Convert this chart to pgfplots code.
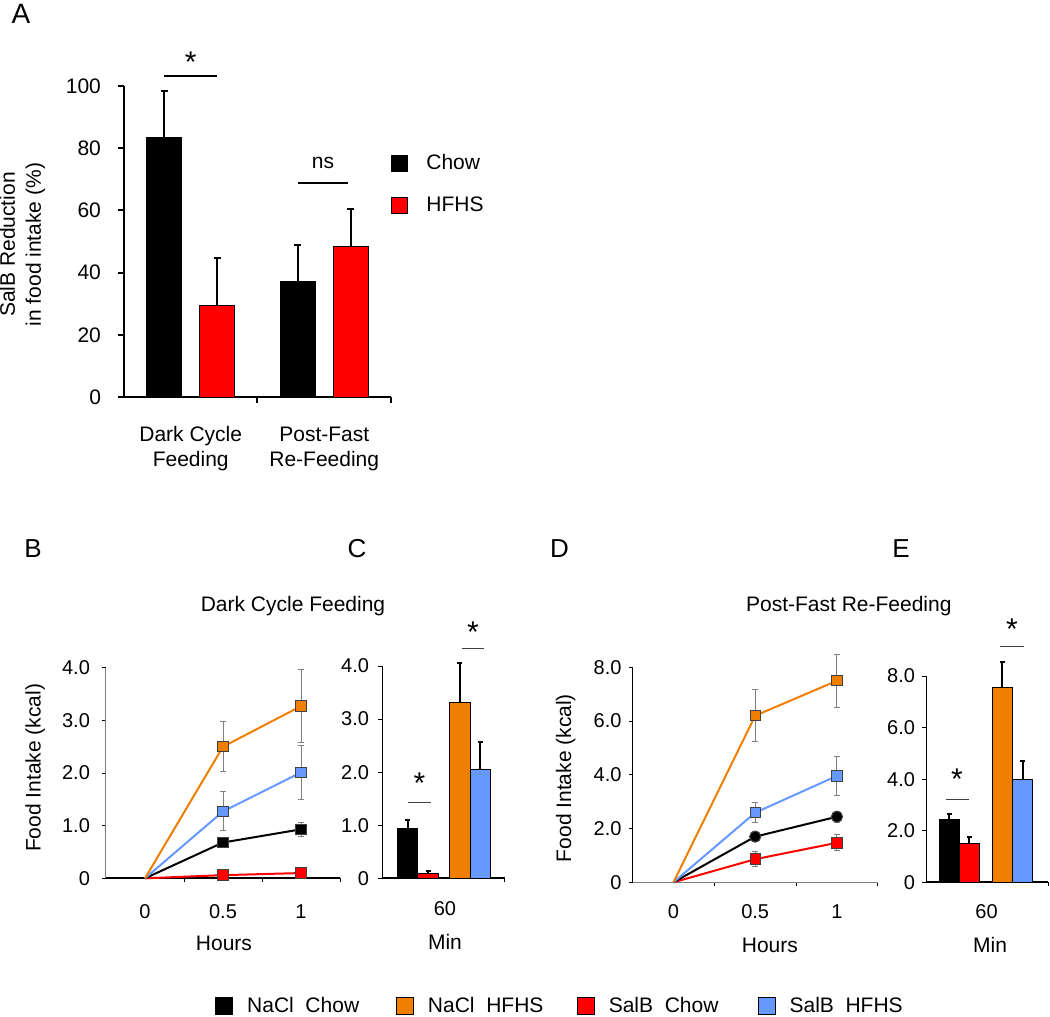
\documentclass[border=0pt]{standalone}
\usepackage{pgfplots}
\pgfplotsset{compat=1.18}
\usepackage{fontspec}
\setmainfont{Liberation Sans}
\setsansfont{Liberation Sans}
\definecolor{cOrange}{RGB}{240,127,0}
\definecolor{cBlue}{RGB}{102,153,255}
\definecolor{cRed}{RGB}{255,0,0}
\newcommand{\tickfont}{\fontsize{10}{12}\selectfont}
\newcommand{\labfont}{\fontsize{10.5}{13}\selectfont}
\newcommand{\starfont}{\fontsize{15}{15}\selectfont}
\pgfplotsset{
  panel/.style={scale only axis, axis lines=left, anchor=south west, clip=false,
    tick align=outside, /pgf/number format/assume math mode=true,
    tick label style={font=\tickfont}, label style={font=\labfont},
    axis line style={-}, major tick style={black}},
  errbar/.style={/pgfplots/error bars/y dir=plus, /pgfplots/error bars/y explicit,
    /pgfplots/error bars/error bar style={line width=1pt, black},
    /pgfplots/error bars/error mark options={rotate=90, line width=1pt, black, mark size=#1}},
  lineerr/.style={only marks, mark=none, forget plot,
    /pgfplots/error bars/y dir=both, /pgfplots/error bars/y explicit,
    /pgfplots/error bars/error bar style={line width=0.5pt, gray},
    /pgfplots/error bars/error mark options={rotate=90, line width=0.5pt, gray, mark size=1.5pt}},
  ser/.style={#1, line width=1pt, mark=square*, mark indices={2,3}, mark size=2.6pt,
    mark options={fill=#1, draw=black!75, line width=0.5pt}},
}
\begin{document}
\begin{tikzpicture}
\useasboundingbox (0,0) rectangle (525pt,-508.5pt);

% panel letters and titles
\node[font=\fontsize{14}{14}\selectfont] at (10.5pt,-7pt) {A};
\node[font=\fontsize{13}{13}\selectfont] at (16.5pt,-274.5pt) {B};
\node[font=\fontsize{13}{13}\selectfont] at (178.5pt,-274.5pt) {C};
\node[font=\fontsize{13}{13}\selectfont] at (279.75pt,-274.5pt) {D};
\node[font=\fontsize{13}{13}\selectfont] at (450.5pt,-274.5pt) {E};
\node[font=\labfont] at (146.5pt,-303pt) {Dark Cycle Feeding};
\node[font=\labfont] at (424.4pt,-303pt) {Post-Fast Re-Feeding};

% ---------------- Panel A
\begin{axis}[panel,
  at={(62pt,-198.5pt)}, width=133.5pt, height=155.5pt,
  xmin=-0.5, xmax=1.5, ymin=0, ymax=100,
  axis line style={line width=1pt},
  major tick style={line width=1pt},
  major tick length=3pt,
  ytick={0,20,40,60,80,100}, yticklabels={0,20,40,60,80,100},
  yticklabel style={xshift=-5pt, font=\fontsize{10.5}{12}\selectfont},
  xtick={0.5,1.5}, xticklabels={,},
  extra x ticks={0,1},
  extra x tick labels={{Dark Cycle\\Feeding},{Post-Fast\\Re-Feeding}},
  extra x tick style={major tick length=0pt,
     xticklabel style={align=center, anchor=center, yshift=-26pt, font=\fontsize{10.5}{12.5}\selectfont}},
  ylabel={SalB Reduction\\in food intake (\%)},
  ylabel style={align=center, at={(axis description cs:-0.38,0.49)}, anchor=center},
  legend style={draw=none, fill=none, at={(axis description cs:1.0,0.795)}, anchor=north west,
     inner sep=0pt, row sep=8pt, font=\labfont,
     /tikz/every odd column/.append style={column sep=7pt}},
  legend cell align=left,
]
\addplot[ybar, bar width=17.5pt, bar shift=0pt, fill=black, draw=black, line width=0.5pt,
  legend image code/.code={\draw[draw=black, fill=black] (0pt,-4pt) rectangle (8pt,4pt);},
  errbar=1.75pt]
  coordinates {(-0.2,83.5) +- (0,14.9) (0.8,37.0) +- (0,11.9)};
\addlegendentry{Chow}
\addplot[ybar, bar width=17.5pt, bar shift=0pt, fill=cRed, draw=black, line width=0.5pt,
  legend image code/.code={\draw[draw=black, fill=cRed, line width=0.4pt] (0pt,-4pt) rectangle (8pt,4pt);},
  errbar=1.75pt]
  coordinates {(0.2,29.5) +- (0,15.2) (1.2,48.5) +- (0,12.0)};
\addlegendentry{HFHS}
\draw[line width=1pt] (axis cs:-0.2,103.2) -- (axis cs:0.2,103.2);
\node[font=\starfont] at (axis cs:0,107.5) {*};
\draw[line width=1pt] (axis cs:0.8,68.8) -- (axis cs:1.175,68.8);
\node[font=\labfont] at (axis cs:0.99,75.2) {ns};
\end{axis}

% ---------------- Panel B
\begin{axis}[panel,
  at={(53pt,-439.15pt)}, width=117pt, height=105.3pt,
  xmin=-0.25, xmax=1.25, ymin=0, ymax=4,
  x axis line style={line width=1pt}, y axis line style={line width=0.5pt, gray},
  major tick length=2pt, major tick style={line width=0.5pt},
  ytick={0,1,2,3,4}, yticklabels={0,1.0,2.0,3.0,4.0},
  yticklabel style={xshift=-2.5pt},
  xtick={0.25,0.75,1.25}, xticklabels={,,},
  extra x ticks={0,0.5,1}, extra x tick labels={0,0.5,1},
  extra x tick style={major tick length=0pt, xticklabel style={anchor=center, yshift=-16.5pt}},
  xlabel={Hours}, xlabel style={at={(axis description cs:0.504,-0.307)}, anchor=center},
  ylabel={Food Intake (kcal)}, ylabel style={at={(axis description cs:-0.303,0.524)}, anchor=center},
]
\addplot[lineerr] coordinates {(0.5,0.06)+-(0,0.02) (1,0.10)+-(0,0.03)};
\addplot[ser=cRed] coordinates {(0,0) (0.5,0.06) (1,0.10)};
\addplot[lineerr] coordinates {(0.5,0.68)+-(0,0.04) (1,0.93)+-(0,0.13)};
\addplot[ser=black] coordinates {(0,0) (0.5,0.68) (1,0.93)};
\addplot[lineerr] coordinates {(0.5,1.27)+-(0,0.37) (1,2.01)+-(0,0.52)};
\addplot[ser=cBlue] coordinates {(0,0) (0.5,1.27) (1,2.01)};
\addplot[lineerr] coordinates {(0.5,2.50)+-(0,0.48) (1,3.27)+-(0,0.69)};
\addplot[ser=cOrange] coordinates {(0,0) (0.5,2.50) (1,3.27)};
\end{axis}

% ---------------- Panel C
\begin{axis}[panel,
  at={(191pt,-439.15pt)}, width=61.5pt, height=106.15pt,
  xmin=0, xmax=6, ymin=0, ymax=4,
  x axis line style={line width=1pt}, y axis line style={line width=0.5pt},
  major tick length=2pt, major tick style={line width=0.5pt},
  ytick={0,1,2,3,4}, yticklabels={0,1.0,2.0,3.0,4.0},
  yticklabel style={xshift=-1pt},
  xtick={6}, xticklabels={},
  extra x ticks={3.07}, extra x tick labels={60},
  extra x tick style={major tick length=0pt, xticklabel style={anchor=center, yshift=-15pt}},
  xlabel={Min}, xlabel style={at={(axis description cs:0.512,-0.30)}, anchor=center},
  legend columns=4,
  legend style={draw=none, fill=none, at={(axis description cs:-1.358,-0.6015)}, anchor=west,
     inner sep=0pt, font=\labfont,
     /tikz/every odd column/.append style={column sep=5pt}},
  legend cell align=left,
]
\addplot[ybar, bar width=10.25pt, bar shift=0pt, fill=black, draw=black, line width=0.4pt,
  legend image code/.code={\draw[draw=black, fill=black, line width=0.4pt] (0pt,-4.25pt) rectangle (8.5pt,4.25pt);},
  errbar=1.25pt]
  coordinates {(1.25,0.94) +- (0,0.15)};
\addlegendentry{\makebox[72.5pt][l]{NaCl\ \ Chow}}
\addplot[ybar, bar width=10.25pt, bar shift=0pt, fill=cOrange, draw=black, line width=0.4pt,
  legend image code/.code={\draw[draw=black, fill=cOrange, line width=0.4pt] (0pt,-4.25pt) rectangle (8.5pt,4.25pt);},
  errbar=1.25pt]
  coordinates {(3.8,3.31) +- (0,0.74)};
\addlegendentry{\makebox[72.5pt][l]{NaCl\ \ HFHS}}
\addplot[ybar, bar width=10.25pt, bar shift=0pt, fill=cRed, draw=black, line width=0.4pt,
  legend image code/.code={\draw[draw=black, fill=cRed, line width=0.4pt] (0pt,-4.25pt) rectangle (8.5pt,4.25pt);},
  errbar=1.25pt]
  coordinates {(2.25,0.10) +- (0,0.03)};
\addlegendentry{\makebox[72.5pt][l]{SalB\ \ Chow}}
\addplot[ybar, bar width=10.25pt, bar shift=0pt, fill=cBlue, draw=black, line width=0.4pt,
  legend image code/.code={\draw[draw=black, fill=cBlue, line width=0.4pt] (0pt,-4.25pt) rectangle (8.5pt,4.25pt);},
  errbar=1.25pt]
  coordinates {(4.8,2.06) +- (0,0.51)};
\addlegendentry{SalB\ \ HFHS}
\draw[darkgray, line width=0.5pt] (axis cs:1.27,1.43) -- (axis cs:2.39,1.43);
\node[font=\starfont] at (axis cs:1.83,1.80) {*};
\draw[darkgray, line width=0.5pt] (axis cs:3.9,4.33) -- (axis cs:4.98,4.33);
\node[font=\starfont] at (axis cs:4.44,4.64) {*};
\end{axis}

% ---------------- Panel D
\begin{axis}[panel,
  at={(316.3pt,-441.15pt)}, width=122.6pt, height=107.5pt,
  xmin=-0.25, xmax=1.25, ymin=0, ymax=8,
  x axis line style={line width=0.5pt, gray}, y axis line style={line width=0.5pt},
  major tick length=2pt, major tick style={line width=0.5pt},
  ytick={0,2,4,6,8}, yticklabels={0,2.0,4.0,6.0,8.0},
  xtick={0.25,0.75,1.25}, xticklabels={,,},
  extra x ticks={0,0.5,1}, extra x tick labels={0,0.5,1},
  extra x tick style={major tick length=0pt, xticklabel style={anchor=center, yshift=-14.5pt}},
  xlabel={Hours}, xlabel style={at={(axis description cs:0.56,-0.292)}, anchor=center},
  ylabel={Food Intake (kcal)}, ylabel style={at={(axis description cs:-0.273,0.485)}, anchor=center},
]
\addplot[lineerr] coordinates {(0.5,0.86)+-(0,0.27) (1,1.47)+-(0,0.30)};
\addplot[ser=cRed] coordinates {(0,0) (0.5,0.86) (1,1.47)};
\addplot[lineerr] coordinates {(0.5,1.70)+-(0,0.20) (1,2.44)+-(0,0.20)};
\addplot[ser=black, mark=*, mark size=2.8pt] coordinates {(0,0) (0.5,1.70) (1,2.44)};
\addplot[lineerr] coordinates {(0.5,2.59)+-(0,0.37) (1,3.96)+-(0,0.72)};
\addplot[ser=cBlue] coordinates {(0,0) (0.5,2.59) (1,3.96)};
\addplot[lineerr] coordinates {(0.5,6.20)+-(0,0.97) (1,7.50)+-(0,0.98)};
\addplot[ser=cOrange] coordinates {(0,0) (0.5,6.20) (1,7.50)};
\end{axis}

% ---------------- Panel E
\begin{axis}[panel,
  at={(463pt,-441.15pt)}, width=61pt, height=103.15pt,
  xmin=0, xmax=6.1, ymin=0, ymax=8,
  x axis line style={line width=1pt}, y axis line style={line width=0.5pt},
  major tick length=2pt, major tick style={line width=0.5pt},
  ytick={0,2,4,6,8}, yticklabels={0,2.0,4.0,6.0,8.0},
  xtick={6.1}, xticklabels={},
  extra x ticks={3.03}, extra x tick labels={60},
  extra x tick style={major tick length=0pt, xticklabel style={anchor=center, yshift=-14.5pt}},
  xlabel={Min}, xlabel style={at={(axis description cs:0.525,-0.304)}, anchor=center},
]
\addplot[ybar, bar width=10pt, bar shift=0pt, fill=black, draw=black, line width=0.4pt, errbar=1.25pt]
  coordinates {(1.15,2.44) +- (0,0.21)};
\addplot[ybar, bar width=10pt, bar shift=0pt, fill=cRed, draw=black, line width=0.4pt, errbar=1.25pt]
  coordinates {(2.15,1.49) +- (0,0.25)};
\addplot[ybar, bar width=10pt, bar shift=0pt, fill=cOrange, draw=black, line width=0.4pt, errbar=1.25pt]
  coordinates {(3.8,7.55) +- (0,0.98)};
\addplot[ybar, bar width=10pt, bar shift=0pt, fill=cBlue, draw=black, line width=0.4pt, errbar=1.25pt]
  coordinates {(4.83,3.99) +- (0,0.73)};
\draw[darkgray, line width=0.5pt] (axis cs:0.99,3.23) -- (axis cs:2.15,3.23);
\node[font=\starfont] at (axis cs:1.55,3.98) {*};
\draw[darkgray, line width=0.5pt] (axis cs:3.7,9.14) -- (axis cs:4.9,9.14);
\node[font=\starfont] at (axis cs:4.3,9.8) {*};
\end{axis}
\end{tikzpicture}
\end{document}
